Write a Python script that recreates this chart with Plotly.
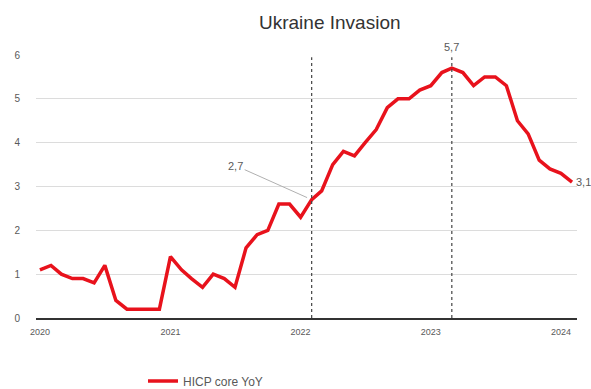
import pandas as pd
import plotly.graph_objects as go

# Euro area core HICP, year-on-year %, monthly from Jan 2020
start_month = "2020-01-01"
core_yoy = [
    1.1, 1.2, 1.0, 0.9, 0.9, 0.8, 1.2, 0.4, 0.2, 0.2, 0.2, 0.2,   # 2020
    1.4, 1.1, 0.9, 0.7, 1.0, 0.9, 0.7, 1.6, 1.9, 2.0, 2.6, 2.6,   # 2021
    2.3, 2.7, 2.9, 3.5, 3.8, 3.7, 4.0, 4.3, 4.8, 5.0, 5.0, 5.2,   # 2022
    5.3, 5.6, 5.7, 5.6, 5.3, 5.5, 5.5, 5.3, 4.5, 4.2, 3.6, 3.4,   # 2023
    3.3, 3.1,                                                     # 2024
]
series_name = "HICP core YoY"
chart_title = "Ukraine Invasion"
year_ticks = ["2020", "2021", "2022", "2023", "2024"]
y_ticks = [0, 1, 2, 3, 4, 5, 6]

# marked months: invasion month and the peak
invasion_month = "2022-02-01"
peak_month = "2023-03-01"

months = pd.date_range(start_month, periods=len(core_yoy), freq="MS")
series = pd.Series(core_yoy, index=months)

RED = "#e8121c"
GREY_TXT = "#595959"
FONT = "Liberation Sans, Arial, sans-serif"

fig = go.Figure()
fig.add_trace(go.Scatter(
    x=months, y=core_yoy, mode="lines", name=series_name,
    line=dict(color=RED, width=3.5),
))

# dotted verticals at the invasion month and the peak month
for m in (invasion_month, peak_month):
    fig.add_shape(type="line", xref="x", yref="y",
                  x0=m, x1=m, y0=0, y1=y_ticks[-1] - 0.05,
                  line=dict(color="#444444", width=1.2, dash="dot"))

inv_val = series[pd.Timestamp(invasion_month)]
peak_val = series[pd.Timestamp(peak_month)]
last_val = series.iloc[-1]

def fmt(v):
    return f"{v:.1f}".replace(".", ",")

fig.add_annotation(x=invasion_month, y=inv_val, text=fmt(inv_val),
                   showarrow=True, arrowhead=0, arrowwidth=1,
                   arrowcolor="#b0b0b0", ax=-76, ay=-34, standoff=5,
                   font=dict(size=11, color=GREY_TXT, family=FONT))
fig.add_annotation(x=peak_month, y=peak_val, text=fmt(peak_val),
                   showarrow=False, yshift=21,
                   font=dict(size=11, color=GREY_TXT, family=FONT))
fig.add_annotation(x=months[-1], y=last_val, text=fmt(last_val),
                   showarrow=False, xanchor="left", xshift=2,
                   font=dict(size=11, color=GREY_TXT, family=FONT))

fig.update_layout(
    width=591, height=389,
    margin=dict(l=36, r=14, t=55, b=71),
    paper_bgcolor="white", plot_bgcolor="white",
    title=dict(text=chart_title, x=0.558, xanchor="center",
               y=1 - 22 / 389, yanchor="middle",
               font=dict(size=19, color="#333333", family=FONT)),
    showlegend=True,
    legend=dict(orientation="h", xref="container", yref="container",
                x=143 / 591, xanchor="left", y=1 - 381 / 389,
                yanchor="middle",
                font=dict(size=12, color=GREY_TXT, family=FONT),
                bgcolor="rgba(0,0,0,0)"),
    font=dict(family=FONT, color=GREY_TXT),
)

fig.update_xaxes(
    type="date",
    range=["2019-12-21", "2024-02-15"],
    tickvals=[f"{y}-01-01" for y in year_ticks],
    ticktext=year_ticks,
    tickfont=dict(size=9, color=GREY_TXT, family=FONT),
    showgrid=False, zeroline=False,
    showline=True, linecolor="#333333", linewidth=1.5,
    ticks="", ticklabelstandoff=4,
)
fig.update_yaxes(
    range=[0, y_ticks[-1]],
    tickvals=y_ticks,
    tickfont=dict(size=10, color=GREY_TXT, family=FONT),
    showgrid=True, gridcolor="#dcdcdc", gridwidth=1,
    zeroline=False, showline=False, ticks="",
    ticklabelstandoff=15,
)

fig.write_html("out.html")
